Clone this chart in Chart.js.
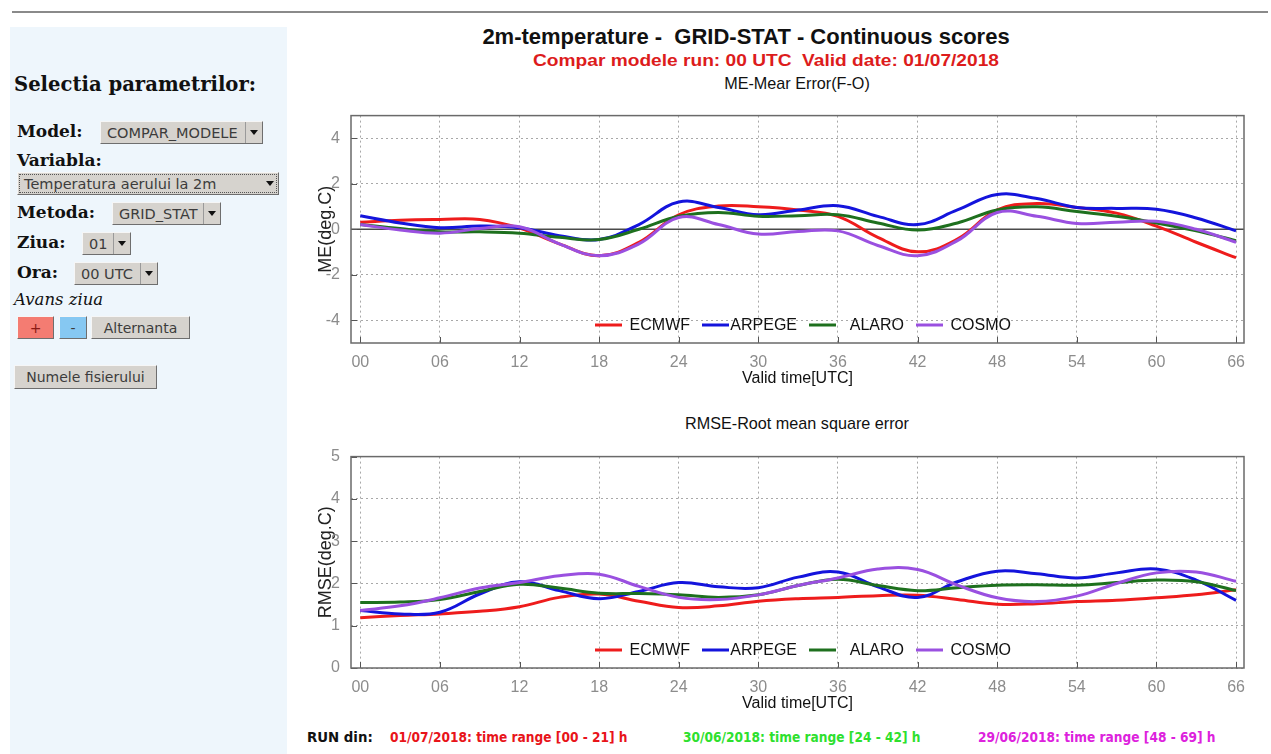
<!DOCTYPE html>
<html><head><meta charset="utf-8">
<script src="https://cdn.jsdelivr.net/npm/chart.js@4/dist/chart.umd.min.js"></script>
<style>
html,body{margin:0;padding:0;background:#fff;width:1271px;height:754px;overflow:hidden;position:relative;}
.abs{position:absolute;white-space:nowrap;}
#topline{left:12px;top:11px;width:1256px;height:2px;background:#8a8a8a;}
#panel{left:10px;top:27px;width:277px;height:727px;background:#eef6fc;}
.lbl{font-family:"DejaVu Serif",serif;font-weight:bold;font-size:17px;color:#111;line-height:20px;height:20px;}
.sel{box-sizing:border-box;background:#d6d3ce;border:1px solid;border-color:#f6f6f6 #6e6e6e #6e6e6e #f6f6f6;
 font-family:"DejaVu Sans",sans-serif;font-size:14.5px;color:#3c3c3c;display:flex;align-items:center;}
.sel .t{flex:1;padding-left:6px;overflow:hidden;}
.sel .a{width:16px;height:100%;border-left:1px solid #9a9a9a;display:flex;align-items:center;justify-content:center;}
.sel .a:after{content:"";border-left:4px solid transparent;border-right:4px solid transparent;border-top:5px solid #111;}
.btn{box-sizing:border-box;border:1px solid;border-color:#f6f6f6 #6e6e6e #6e6e6e #f6f6f6;font-family:"DejaVu Sans",sans-serif;
 font-size:14px;color:#3c3c3c;display:flex;align-items:center;justify-content:center;background:#d6d3ce;}
.ttl{font-family:"Liberation Sans",Arial,sans-serif;color:#111;transform:translateX(-50%);}
.run{font-family:"Liberation Sans Narrow","DejaVu Sans Condensed",sans-serif;font-weight:bold;font-size:13.6px;line-height:16px;}
canvas{position:absolute;}
</style></head>
<body>
<div id="topline" class="abs"></div>
<div id="panel" class="abs"></div>
<div class="abs" style="left:14px;top:72px;font-family:'DejaVu Serif',serif;font-weight:bold;font-size:19.6px;line-height:26px;color:#111;">Selectia parametrilor:</div>

<div class="abs lbl" style="left:17px;top:121px;">Model:</div>
<div class="abs sel" style="left:100px;top:121px;width:163px;height:23px;"><span class="t">COMPAR_MODELE</span><span class="a"></span></div>

<div class="abs lbl" style="left:17px;top:150px;">Variabla:</div>
<div class="abs sel" style="left:17px;top:172px;width:262px;height:23px;outline:1px dotted #555;outline-offset:-3px;"><span class="t">Temperatura aerului la 2m</span><span class="a" style="border-left:none"></span></div>

<div class="abs lbl" style="left:17px;top:202px;">Metoda:</div>
<div class="abs sel" style="left:112px;top:202px;width:109px;height:23px;"><span class="t">GRID_STAT</span><span class="a"></span></div>

<div class="abs lbl" style="left:17px;top:232px;">Ziua:</div>
<div class="abs sel" style="left:82px;top:232px;width:49px;height:23px;"><span class="t">01</span><span class="a"></span></div>

<div class="abs lbl" style="left:17px;top:262px;">Ora:</div>
<div class="abs sel" style="left:74px;top:262px;width:84px;height:23px;"><span class="t">00 UTC</span><span class="a"></span></div>

<div class="abs" style="left:14px;top:289px;font-family:'DejaVu Serif',serif;font-style:italic;font-size:16.5px;line-height:22px;color:#111;">Avans ziua</div>

<div class="abs btn" style="left:17px;top:316px;width:37px;height:23px;background:#f47c72;color:#8a1a14;">+</div>
<div class="abs btn" style="left:59px;top:316px;width:28px;height:23px;background:#86c8f2;">-</div>
<div class="abs btn" style="left:91px;top:316px;width:99px;height:23px;">Alternanta</div>
<div class="abs btn" style="left:14px;top:365px;width:143px;height:24px;">Numele fisierului</div>

<div class="abs ttl" style="left:746px;top:24px;font-size:22px;font-weight:bold;line-height:26px;">2m-temperature -&nbsp; GRID-STAT - Continuous scores</div>
<div class="abs ttl" style="left:766px;top:50px;font-size:16.5px;font-weight:bold;line-height:20px;color:#dd1c1c;transform:translateX(-50%) scaleX(1.16);">Compar modele run: 00 UTC&nbsp; Valid date: 01/07/2018</div>
<div class="abs ttl" style="left:797px;top:73px;font-size:16.2px;line-height:20px;">ME-Mear Error(F-O)</div>
<div class="abs ttl" style="left:797px;top:413px;font-size:16.2px;line-height:20px;">RMSE-Root mean square error</div>

<canvas id="c1" width="975" height="298" style="left:290px;top:95px;"></canvas>
<canvas id="c2" width="975" height="282" style="left:290px;top:436px;"></canvas>

<div class="abs run" style="left:307px;top:729px;color:#111;font-size:14.8px;">RUN din:</div>
<div class="abs run" style="left:390px;top:729px;color:#e8141a;">01/07/2018: time range [00 - 21] h</div>
<div class="abs run" style="left:683px;top:729px;color:#2ee02e;">30/06/2018: time range [24 - 42] h</div>
<div class="abs run" style="left:978px;top:729px;color:#dd22dd;">29/06/2018: time range [48 - 69] h</div>

<script>
// ---- data ----
const hours = [0,3,6,9,12,15,18,21,24,27,30,33,36,39,42,45,48,51,54,57,60,63,66];
const xTickValues = [0,6,12,18,24,30,36,42,48,54,60,66];
const meTickValues = [-4,-2,0,2,4];
const rmseTickValues = [0,1,2,3,4,5];
const models = ['ECMWF','ARPEGE','ALARO','COSMO'];

const meECMWF  = [0.31,0.40,0.43,0.43,0.05,-0.64,-1.16,-0.57,0.64,1.02,0.99,0.85,0.57,-0.35,-0.99,-0.43,0.85,1.13,0.96,0.71,0.14,-0.57,-1.25];
const meARPEGE = [0.60,0.28,0.07,0.14,0.07,-0.28,-0.45,0.21,1.20,0.96,0.64,0.85,1.04,0.57,0.21,0.85,1.53,1.35,0.96,0.92,0.88,0.50,-0.07];
const meALARO  = [0.21,0.03,-0.11,-0.11,-0.17,-0.35,-0.45,0.00,0.57,0.74,0.57,0.60,0.64,0.28,-0.03,0.28,0.85,0.99,0.78,0.57,0.28,-0.07,-0.50];
const meCOSMO  = [0.21,-0.03,-0.17,0.03,0.11,-0.64,-1.16,-0.64,0.52,0.21,-0.21,-0.10,-0.07,-0.71,-1.16,-0.50,0.74,0.57,0.26,0.31,0.35,0.00,-0.57];

const rmseECMWF  = [1.19,1.24,1.28,1.34,1.45,1.67,1.75,1.58,1.43,1.47,1.58,1.64,1.67,1.71,1.72,1.62,1.51,1.52,1.57,1.60,1.66,1.73,1.85];
const rmseARPEGE = [1.36,1.28,1.32,1.75,2.04,1.83,1.64,1.81,2.02,1.92,1.90,2.15,2.27,1.92,1.67,2.04,2.29,2.23,2.13,2.25,2.34,2.08,1.60];
const rmseALARO  = [1.55,1.56,1.62,1.81,1.98,1.89,1.77,1.76,1.73,1.67,1.73,1.95,2.10,1.95,1.83,1.90,1.96,1.97,1.96,2.02,2.08,2.04,1.83];
const rmseCOSMO  = [1.36,1.47,1.66,1.89,2.02,2.18,2.22,1.93,1.67,1.62,1.73,1.95,2.13,2.34,2.33,1.96,1.66,1.57,1.70,2.00,2.25,2.27,2.05];

const colors = ['#ee1c1c','#1414dc','#1e701e','#9a50e0'];

function mkDatasets(series){
  return series.map((vals,i)=>({
    label: models[i],
    data: hours.map((h,k)=>({x:h,y:vals[k]})),
    borderColor: colors[i],
    backgroundColor: colors[i],
    borderWidth: 3,
    pointRadius: 0,
    tension: 0.4,
    fill: false,
    order: 4 - i
  }));
}

const decorPlugin = {
  id: 'decor',
  beforeDatasetsDraw(chart, args, opts){
    const ctx = chart.ctx, a = chart.chartArea;
    if (opts.zeroLine){
      const y = chart.scales.y.getPixelForValue(0);
      ctx.save(); ctx.strokeStyle = '#4a4a4a'; ctx.lineWidth = 1.5;
      ctx.beginPath(); ctx.moveTo(a.left, y); ctx.lineTo(a.right, y); ctx.stroke(); ctx.restore();
    }
  },
  afterDatasetsDraw(chart, args, opts){
    const ctx = chart.ctx, a = chart.chartArea;
    ctx.save();
    ctx.strokeStyle = '#555'; ctx.lineWidth = 1;
    ctx.beginPath();
    chart.scales.x.ticks.forEach(t=>{
      const px = Math.round(chart.scales.x.getPixelForValue(t.value))+0.5;
      ctx.moveTo(px, a.bottom); ctx.lineTo(px, a.bottom-6);
    });
    chart.scales.y.ticks.forEach(t=>{
      const py = Math.round(chart.scales.y.getPixelForValue(t.value))+0.5;
      ctx.moveTo(a.left, py); ctx.lineTo(a.left+6, py);
    });
    ctx.stroke();
    ctx.strokeStyle = '#6a6a6a'; ctx.lineWidth = 1.5;
    ctx.strokeRect(a.left, a.top, a.right-a.left, a.bottom-a.top);
    const ly = a.bottom - 18;
    ctx.font = '16px "Liberation Sans", Arial, sans-serif';
    ctx.textBaseline = 'middle'; ctx.textAlign = 'right';
    chart.data.datasets.forEach((ds,i)=>{
      const sx = a.left + 244 + i*107;
      ctx.strokeStyle = ds.borderColor; ctx.lineWidth = 3;
      ctx.beginPath(); ctx.moveTo(sx, ly); ctx.lineTo(sx+27, ly); ctx.stroke();
      ctx.fillStyle = '#111';
      ctx.fillText(ds.label, sx+95, ly+1);
    });
    ctx.restore();
  }
};

function pad2(v){ return (v<10?'0':'') + v; }
const FONT = '"Liberation Sans", Arial, sans-serif';

function mkChart(id, series, yMin, yMax, yTicks, yTitle, zeroLine){
  return new Chart(document.getElementById(id), {
    type: 'line',
    data: { datasets: mkDatasets(series) },
    plugins: [decorPlugin],
    options: {
      responsive: false, animation: false, devicePixelRatio: 1,
      layout: { padding: { top: 12, right: 21, left: 0, bottom: 0 } },
      plugins: { legend: { display: false }, tooltip: { enabled: false }, decor: { zeroLine: zeroLine } },
      scales: {
        x: {
          type: 'linear', min: -0.7, max: 66.6,
          afterBuildTicks: s => { s.ticks = xTickValues.map(v=>({value:v})); },
          afterFit: s => { s.height = 50; },
          ticks: { callback: v => pad2(v), color: '#8c8c8c', font: { family: FONT, size: 16 }, padding: 10, maxRotation: 0, autoSkip: false },
          grid: { color: '#a8a8a8', lineWidth: 1, drawTicks: false },
          border: { display: false, dash: [2,3] },
          title: { display: true, text: 'Valid time[UTC]', color: '#111', font: { family: FONT, size: 16 }, padding: { top: 0, bottom: 5 } }
        },
        y: {
          min: yMin, max: yMax,
          afterBuildTicks: s => { s.ticks = yTicks.map(v=>({value:v})); },
          afterFit: s => { s.width = 61; },
          ticks: { color: '#8c8c8c', font: { family: FONT, size: 16 }, padding: 11 },
          grid: { color: '#a8a8a8', lineWidth: 1, drawTicks: false },
          border: { display: false, dash: [2,3] },
          title: { display: true, text: yTitle, color: '#222', font: { family: FONT, size: 18 }, padding: { top: 25, bottom: 0 } }
        }
      }
    }
  });
}

mkChart('c1', [meECMWF, meARPEGE, meALARO, meCOSMO], -5, 5, meTickValues, 'ME(deg.C)', true);
mkChart('c2', [rmseECMWF, rmseARPEGE, rmseALARO, rmseCOSMO], 0, 5, rmseTickValues, 'RMSE(deg.C)', false);
</script>
</body></html>
